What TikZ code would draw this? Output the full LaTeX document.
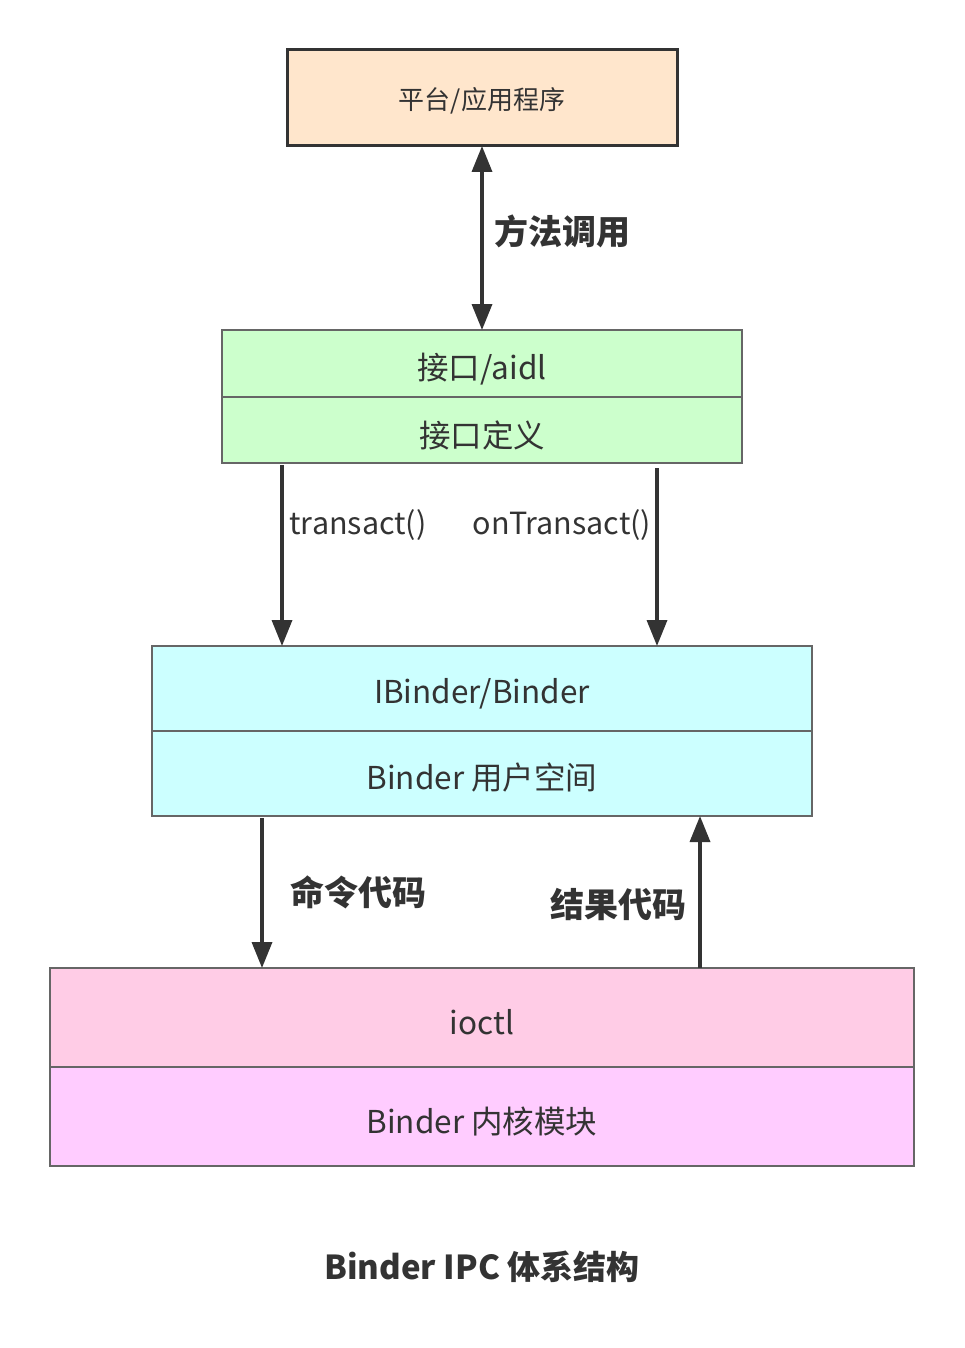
\documentclass[tikz,border=0pt]{standalone}
\usepackage{fontspec}
\setmainfont{Noto Sans CJK SC}
\usetikzlibrary{arrows.meta}
\definecolor{txt}{HTML}{333333}
\definecolor{edge}{HTML}{666666}
\definecolor{peach}{HTML}{FFE6CC}
\definecolor{lgreen}{HTML}{CCFFCC}
\definecolor{lcyan}{HTML}{CCFFFF}
\definecolor{lpink}{HTML}{FFCCE6}
\definecolor{lmag}{HTML}{FFCCFF}
\tikzset{
  layer/.style={draw=edge, line width=1.5pt, text=txt, font=\fontsize{31.5}{33}\selectfont},
  flow/.style={draw=txt, line width=3.5pt, -{Triangle[length=26pt,width=20pt]}},
  lbl/.style={text=txt, font=\fontsize{30.5}{32}\selectfont},
  blbl/.style={text=txt, font=\fontsize{34}{36}\selectfont\bfseries},
}
\begin{document}
\begin{tikzpicture}[x=1pt,y=-1pt]
\useasboundingbox (0,0) rectangle (964,1348);
% top box
\draw[draw=txt, line width=3pt, fill=peach] (287,50) rectangle (677,146);
\node[text=txt, font=\fontsize{26}{28}\selectfont] (app) at (482,101) {平台/应用程序};
\coordinate (appS) at (482,146);
% green
\draw[layer, fill=lgreen] (222,330) rectangle (742,463);
\draw[layer] (222,397) -- (742,397);
\node[layer, draw=none] (aidl) at (482,369) {接口/aidl};
\node[layer, draw=none] (def) at (482,435) {接口定义};
\coordinate (gN) at (482,330);
\coordinate (gS1) at (282,465);
\coordinate (gS2) at (657,468);
% cyan
\draw[layer, fill=lcyan] (152,646) rectangle (812,816);
\draw[layer] (152,731) -- (812,731);
\node[layer, draw=none] (ib) at (482,694) {IBinder/Binder};
\node[layer, draw=none] (us) at (482,778) {Binder 用户空间};
\coordinate (cN1) at (282,646);
\coordinate (cN2) at (657,646);
\coordinate (cS1) at (262,818);
\coordinate (cS2) at (700,816);
% pink
\draw[layer, fill=lpink] (50,968) rectangle (914,1067);
\draw[layer, fill=lmag] (50,1067) rectangle (914,1166);
\node[layer, draw=none] (io) at (482,1022) {ioctl};
\node[layer, draw=none] (km) at (482,1121) {Binder 内核模块};
\coordinate (pN1) at (262,968);
\coordinate (pN2) at (700,968);
% arrows
\draw[flow, {Triangle[length=26pt,width=20pt]}-{Triangle[length=26pt,width=20pt]}] (appS) -- (gN);
\draw[flow] (gS1) -- (cN1);
\draw[flow] (gS2) -- (cN2);
\draw[flow] (cS1) -- (pN1);
\draw[flow] (pN2) -- (cS2);
% labels
\node[blbl] (l1) at (562,231) {方法调用};
\node[lbl] (l2) at (358,525) {transact()};
\node[lbl] (l3) at (562,525) {onTransact()};
\node[blbl] (l4) at (358,892) {命令代码};
\node[blbl] (l5) at (618,905) {结果代码};
\node[text=txt, font=\fontsize{33}{35}\selectfont\bfseries] (title) at (482,1267) {Binder IPC 体系结构};
\end{tikzpicture}
\end{document}
